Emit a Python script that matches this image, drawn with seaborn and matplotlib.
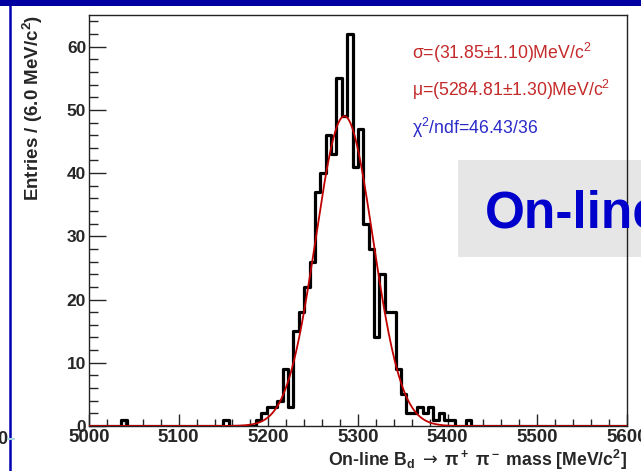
import numpy as np
import matplotlib
matplotlib.use('Agg')
import matplotlib.pyplot as plt
import seaborn as sns
from matplotlib.patches import Rectangle
from matplotlib.lines import Line2D
from matplotlib.ticker import MultipleLocator

# Histogram: 100 bins of 6 MeV/c^2 between 5000 and 5600
mass_lo = 5000
mass_hi = 5600
bin_width = 6
counts = [
    0, 0, 0, 0, 0, 0, 1, 0, 0, 0,
    0, 0, 0, 0, 0, 0, 0, 0, 0, 0,
    0, 0, 0, 0, 0, 1, 0, 0, 0, 0,
    0, 1, 2, 3, 3, 4, 9, 3, 15, 18,
    22, 26, 37, 40, 46, 43, 55, 49, 62, 41,
    47, 32, 28, 14, 24, 18, 18, 9, 5, 2,
    2, 3, 2, 3, 1, 2, 1, 1, 0, 0,
    1, 0, 0, 0, 0, 0, 0, 0, 0, 0,
    0, 0, 0, 0, 0, 0, 0, 0, 0, 0,
    0, 0, 0, 0, 0, 0, 0, 0, 0, 0,
]

# Gaussian fit result shown on the plot
fit_mu = 5284.81
fit_sigma = 31.85
fit_peak = 49.0
fit_text = [
    ("σ=(31.85±1.10)MeV/c$^2$", '#C42A2A'),
    ("μ=(5284.81±1.30)MeV/c$^2$", '#C42A2A'),
    ("χ$^2$/ndf=46.43/36", '#2A2AC8'),
]

sns.set_style('ticks')
plt.rcParams['font.family'] = ['Liberation Sans', 'DejaVu Sans']
plt.rcParams['mathtext.fontset'] = 'custom'
plt.rcParams['mathtext.rm'] = 'Liberation Sans'
plt.rcParams['mathtext.it'] = 'Liberation Sans:italic'
plt.rcParams['mathtext.bf'] = 'Liberation Sans:bold'
plt.rcParams['mathtext.sf'] = 'DejaVu Sans'
plt.rcParams['mathtext.default'] = 'regular'

fig = plt.figure(figsize=(6.41, 4.71), dpi=100)
fig.patch.set_facecolor('white')
ax = fig.add_axes([0.1388, 0.0955, 0.8393, 0.8726])
ax.set_facecolor('none')

n_bins = (mass_hi - mass_lo) // bin_width
centers = mass_lo + bin_width * (np.arange(n_bins) + 0.5)
sns.histplot(x=centers, weights=counts, bins=n_bins, binrange=(mass_lo, mass_hi),
             element='step', fill=False, color='black', linewidth=2.3, ax=ax, zorder=3)

# fitted gaussian
xf = np.linspace(mass_lo, mass_hi, 1201)
yf = fit_peak * np.exp(-0.5 * ((xf - fit_mu) / fit_sigma) ** 2)
sns.lineplot(x=xf, y=yf, color='#C00000', linewidth=1.3, ax=ax, zorder=4)

ax.set_xlim(mass_lo, mass_hi)
ax.set_ylim(0, 65)
ax.xaxis.set_major_locator(MultipleLocator(100))
ax.xaxis.set_minor_locator(MultipleLocator(20))
ax.yaxis.set_major_locator(MultipleLocator(10))
ax.yaxis.set_minor_locator(MultipleLocator(2))
ax.tick_params(axis='x', which='major', direction='in', length=9, width=1, pad=2, labelsize=13.5)
ax.tick_params(axis='x', which='minor', direction='in', length=4.8, width=1)
ax.tick_params(axis='y', which='major', direction='in', length=12, width=1, pad=2, labelsize=12.5)
ax.tick_params(axis='y', which='minor', direction='in', length=6.5, width=1)
for lab in ax.get_xticklabels() + ax.get_yticklabels():
    lab.set_fontweight('bold')
for sp in ax.spines.values():
    sp.set_visible(True)
    sp.set_linewidth(1)
    sp.set_color('#222222')

ax.set_xlabel("On-line B$_d$ $\\mathsf{\\rightarrow}$ π$^+$ π$^-$ mass [MeV/c$^2$]", loc='right',
              fontsize=12.7, fontweight='bold', labelpad=1.5)
ax.set_ylabel("Entries / (6.0 MeV/c$^2$)", loc='top',
              fontsize=13.5, fontweight='bold', labelpad=16)

for (txt, col), yb in zip(fit_text, [0.892, 0.803, 0.710]):
    ax.text(0.600, yb, txt, transform=ax.transAxes, color=col, fontsize=12.7,
            va='baseline', ha='left')

# slide decorations around the chart
fig.patches.append(Rectangle((458 / 641, (471 - 257) / 471), 1, 97 / 471,
                             transform=fig.transFigure, facecolor='#E6E6E6',
                             edgecolor='none', zorder=-1))
fig.text(485 / 641, (471 - 227) / 471, "On-line", color='#0000CC', fontsize=37,
         fontweight='bold', va='baseline', ha='left')
fig.patches.append(Rectangle((0, 1 - 6 / 471), 1, 6 / 471, transform=fig.transFigure,
                             facecolor='#0000A0', edgecolor='none', zorder=5))
fig.lines.append(Line2D([10 / 641, 10 / 641], [0, 1], transform=fig.transFigure,
                        color='#0000B0', linewidth=1.8, zorder=5))
fig.lines.append(Line2D([8 / 641, 14 / 641], [32 / 471, 32 / 471], transform=fig.transFigure,
                        color='#A8D8E8', linewidth=1.5, zorder=6))
fig.text(7 / 641, 32 / 471, "0", fontsize=13, fontweight='bold', ha='right', va='center')

fig.savefig('out.png', dpi=100)
